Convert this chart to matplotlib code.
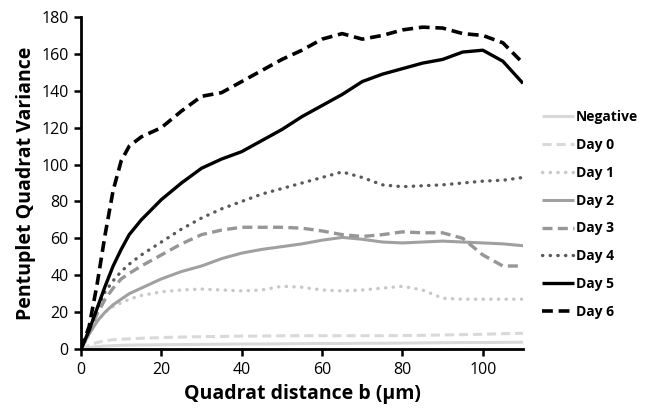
import matplotlib
matplotlib.use("Agg")
import matplotlib.pyplot as plt
import numpy as np

x = [0, 2, 4, 6, 8, 10, 12, 15, 20, 25, 30, 35, 40, 45, 50, 55, 60, 65, 70, 75, 80, 85, 90, 95, 100, 105, 110]

negative = [0, 0.8, 1.3, 1.6, 1.8, 2.0, 2.1, 2.2, 2.3, 2.4, 2.5, 2.6, 2.7, 2.7, 2.8, 2.9, 3.0, 3.0, 3.1, 3.1, 3.2, 3.3, 3.4, 3.5, 3.5, 3.6, 3.7]
day0 = [0, 2, 3.5, 4.5, 5, 5.3, 5.5, 5.8, 6.2, 6.5, 6.7, 6.8, 7, 7, 7.2, 7.2, 7.2, 7.2, 7.2, 7.2, 7.3, 7.4, 7.6, 7.8, 8, 8.3, 8.5]
day1 = [0, 8, 15, 20, 23, 25, 27, 29, 31, 32, 32.5, 32, 31.5, 32, 34, 33.5, 32, 31.5, 32, 33, 34, 32, 27.5, 27, 27, 27, 27]
day2 = [0, 8, 15, 20, 24, 27, 30, 33, 38, 42, 45, 49, 52, 54, 55.5, 57, 59, 60.5, 59.5, 58, 57.5, 58, 58.5, 58, 57.5, 57, 56]
day3 = [0, 9, 19, 27, 33, 38, 41, 45, 51, 57, 62, 64.5, 66, 66, 66, 65.5, 64, 62, 61, 62, 63.5, 63, 63, 60, 51, 45, 45]
day4 = [0, 10, 22, 31, 37, 42, 46, 51, 58, 65, 71, 76, 80, 84, 87, 90, 93, 96, 93, 89, 88, 88.5, 89, 90, 91, 91.5, 93]
day5 = [0, 10, 22, 34, 45, 54, 62, 70, 81, 90, 98, 103, 107, 113, 119, 126, 132, 138, 145, 149, 152, 155, 157, 161, 162, 156, 144]
day6 = [0, 12, 35, 62, 86, 102, 110, 115, 120, 129, 137, 139, 145, 151, 157, 162, 168, 171, 168, 170, 173, 174.5, 174, 171, 170, 166, 155]

labels = ["Negative", "Day 0", "Day 1", "Day 2", "Day 3", "Day 4", "Day 5", "Day 6"]
series = [negative, day0, day1, day2, day3, day4, day5, day6]
colors = ["#d9d9d9", "#d9d9d9", "#c8c8c8", "#a0a0a0", "#969696", "#595959", "#000000", "#000000"]
DOT = (0, (0.1, 2.2))
DASH = (0, (3, 1.6))
styles = ["-", DASH, DOT, "-", DASH, DOT, "-", DASH]
widths = [2.2, 2.2, 2.4, 2.2, 2.4, 2.4, 2.4, 2.6]

plt.rcParams['font.family'] = ['Open Sans', 'DejaVu Sans']

fig = plt.figure(figsize=(6.47, 4.13), dpi=100)
ax = fig.add_axes([81/647, 1-349/413, (523-81)/647, (349-17)/413])

for lab, y, c, ls, lw in zip(labels, series, colors, styles, widths):
    ax.plot(x, y, color=c, linestyle=ls, linewidth=lw, label=lab,
            solid_capstyle='butt', solid_joinstyle='round',
            dash_capstyle='round' if ls == DOT else 'butt')

ax.set_xlim(0, 110)
ax.set_ylim(0, 180)
ax.set_xticks([0, 20, 40, 60, 80, 100])
ax.set_yticks(range(0, 181, 20))
for s in ['top', 'right']:
    ax.spines[s].set_visible(False)
for s in ['left', 'bottom']:
    ax.spines[s].set_linewidth(2.0)
ax.tick_params(direction='out', length=5, width=1.8, labelsize=11.5, pad=4)
ax.set_xlabel("Quadrat distance b (µm)", fontsize=14, fontweight='bold', labelpad=5)
ax.set_ylabel("Pentuplet Quadrat Variance", fontsize=14, fontweight='bold', labelpad=4)

leg = fig.legend(loc='center left', bbox_to_anchor=(542/647, 1-214.5/413), frameon=False,
                 prop={'weight': 'bold', 'size': 10}, labelspacing=1.0, handlelength=2.3,
                 handletextpad=0.15, borderaxespad=0, borderpad=0)

fig.savefig("out.png", dpi=100)
